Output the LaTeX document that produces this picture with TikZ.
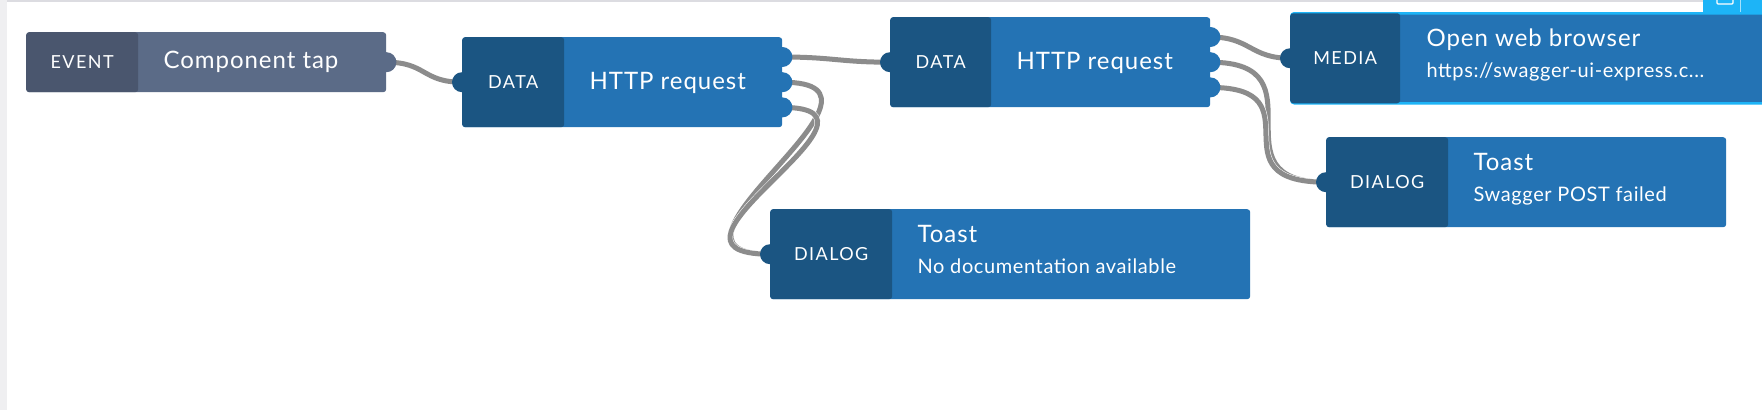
\documentclass[tikz,border=0pt]{standalone}
\usepackage{fontspec}
\setmainfont{Lato}
\newfontfamily\tagfont{Lato}[LetterSpace=8]
\newfontfamily\ttlfont{Lato}[LetterSpace=4]
\newfontfamily\subfont{Lato}[LetterSpace=3]
\usepackage{tikz}
\usetikzlibrary{positioning,backgrounds}
\definecolor{cEvtTag}{HTML}{4A566E}
\definecolor{cEvtBody}{HTML}{5B6B87}
\definecolor{cTag}{HTML}{1B5582}
\definecolor{cBody}{HTML}{2473B4}
\definecolor{cSel}{HTML}{1DB4F7}
\definecolor{cWire}{HTML}{8C8C8C}
\definecolor{cStrip}{HTML}{EFEFF1}
\definecolor{cRule}{HTML}{DCDCE1}
\tikzset{
  blockbody/.style={rounded corners=3pt, fill=#1, inner sep=0pt, minimum height=90pt, anchor=north west},
  blocktag/.style={rounded corners=3pt, fill=#1, inner sep=0pt, minimum height=90pt, anchor=west,
              text=white, font=\tagfont\fontsize{18}{21}\selectfont},
  titletext/.style={anchor=base west, inner sep=0pt, text=white, font=\ttlfont\fontsize{24}{28}\selectfont},
  subtext/.style={anchor=base west, inner sep=0pt, text=white, font=\subfont\fontsize{20}{24}\selectfont},
  portdot/.style={circle, fill=#1, inner sep=0pt, minimum size=20pt},
  wire/.style={draw=cWire, line width=5pt, preaction={draw=white, line width=6pt}},
}
\begin{document}
\begin{tikzpicture}[x=1pt, y=-1pt]
\useasboundingbox (0,0) rectangle (1762,410);
\clip (0,0) rectangle (1762,410);
\begin{scope}[on background layer]
\fill[white] (0,0) rectangle (1762,410);
\fill[cStrip] (0,0) rectangle (7,410);
\fill[cRule] (7,0) rectangle (1762,2);
\end{scope}

\node[blockbody=cEvtBody, minimum width=360pt, minimum height=60pt] (evt) at (26,32) {};
\node[blocktag=cEvtTag, minimum width=112pt, minimum height=60pt] (evtTag) at (evt.west) {EVENT};
\node[titletext] (evtTitle) at ([xshift=25pt, yshift=-6.5pt]evtTag.east) {Component tap};
\node[portdot=cEvtBody] (evtOut) at (evt.east) {};

\node[blockbody=cBody, minimum width=320pt] (req1) at (462,37) {};
\node[blocktag=cTag, minimum width=102pt] (req1Tag) at (req1.west) {DATA};
\node[titletext] (req1Title) at ([xshift=25pt, yshift=-7pt]req1Tag.east) {HTTP request};
\node[portdot=cTag] (req1In) at (req1.west) {};
\node[portdot=cBody] (req1OutA) at ([yshift=-20pt]req1.north east) {};
\node[portdot=cBody] (req1OutB) at (req1.east) {};
\node[portdot=cBody] (req1OutC) at ([yshift=20pt]req1.south east) {};

\node[blockbody=cBody, minimum width=320pt] (req2) at (890,17) {};
\node[blocktag=cTag, minimum width=101pt] (req2Tag) at (req2.west) {DATA};
\node[titletext] (req2Title) at ([xshift=25pt, yshift=-7pt]req2Tag.east) {HTTP request};
\node[portdot=cTag] (req2In) at (req2.west) {};
\node[portdot=cBody] (req2OutA) at ([yshift=-20pt]req2.north east) {};
\node[portdot=cBody] (req2OutB) at (req2.east) {};
\node[portdot=cBody] (req2OutC) at ([yshift=20pt]req2.south east) {};

\node[blockbody=cBody, minimum width=520pt, draw=cSel, line width=2.5pt] (web) at (1290,12) {};
\node[blocktag=cTag, minimum width=110pt] (webTag) at (web.west) {MEDIA};
\node[titletext] (webTitle) at ([xshift=26pt, yshift=11.5pt]webTag.east) {Open web browser};
\node[subtext] (webSub) at ([xshift=26pt, yshift=-19.5pt]webTag.east) {https://swagger-ui-express.c...};
\node[portdot=cTag] (webIn) at (web.west) {};
\fill[cSel] (1703,0) rectangle (1762,13);
\draw[white, line width=1.2pt, rounded corners=1pt] (1717,-4) rectangle (1733,4);
\draw[white!60!cSel, line width=1pt] (1740,0) -- (1740,12);

\node[blockbody=cBody, minimum width=400pt] (fail) at (1326,137) {};
\node[blocktag=cTag, minimum width=122pt] (failTag) at (fail.west) {DIALOG};
\node[titletext] (failTitle) at ([xshift=25pt, yshift=11.5pt]failTag.east) {Toast};
\node[subtext] (failSub) at ([xshift=25pt, yshift=-19.5pt]failTag.east) {Swagger POST failed};
\node[portdot=cTag] (failIn) at (fail.west) {};

\node[blockbody=cBody, minimum width=480pt] (nodoc) at (770,209) {};
\node[blocktag=cTag, minimum width=122pt] (nodocTag) at (nodoc.west) {DIALOG};
\node[titletext] (nodocTitle) at ([xshift=25pt, yshift=11.5pt]nodocTag.east) {Toast};
\node[subtext] (nodocSub) at ([xshift=25pt, yshift=-19.5pt]nodocTag.east) {No documentation available};
\node[portdot=cTag] (nodocIn) at (nodoc.west) {};

\begin{scope}[on background layer]
\draw[wire] (evtOut.center) .. controls +(40,0) and +(-40,0) .. (req1In.center);
\draw[wire] (req1OutA.center) .. controls +(50,0) and +(-50,0) .. (req2In.center);
\draw[wire] (req1OutB.center) .. controls +(140,0) and +(-140,0) .. (nodocIn.center);
\draw[wire] (req1OutC.center) .. controls +(130,0) and +(-140,0) .. (nodocIn.center);
\draw[wire] (req2OutA.center) .. controls +(40,0) and +(-40,0) .. (webIn.center);
\draw[wire] (req2OutB.center) .. controls +(116,0) and +(-116,0) .. (failIn.center);
\draw[wire] (req2OutC.center) .. controls +(110,0) and +(-116,0) .. (failIn.center);
\end{scope}
\end{tikzpicture}
\end{document}
